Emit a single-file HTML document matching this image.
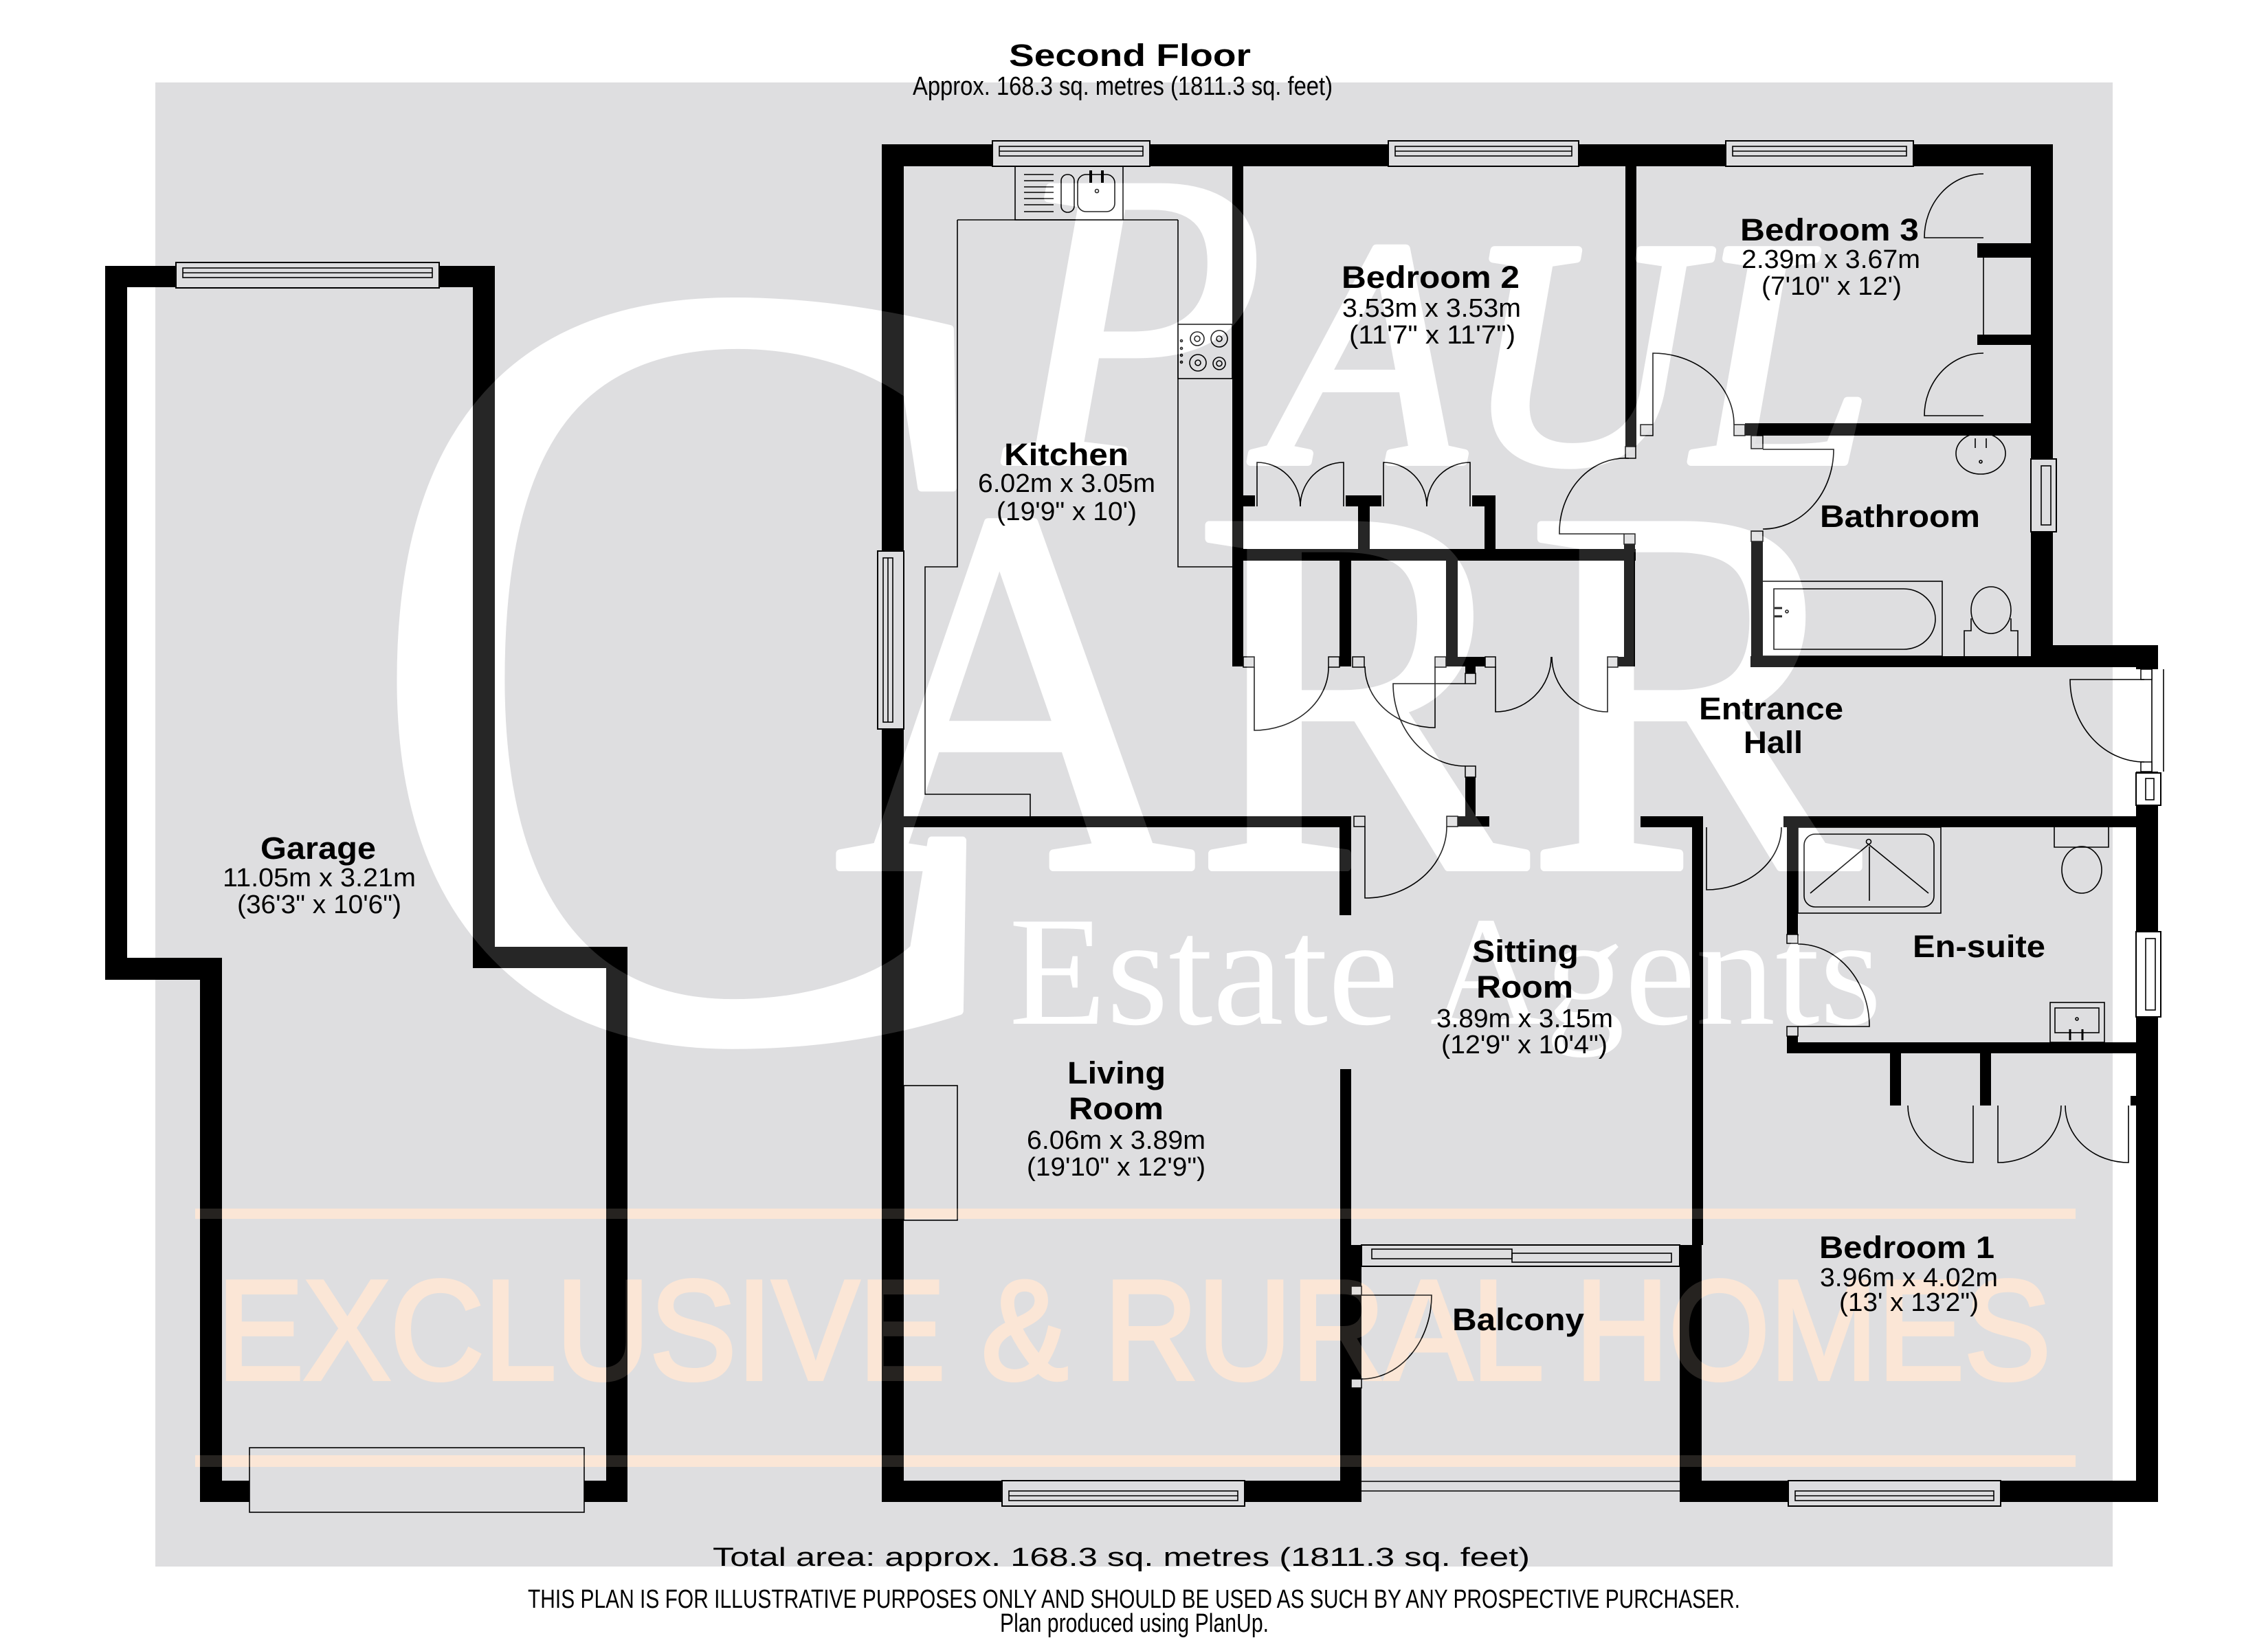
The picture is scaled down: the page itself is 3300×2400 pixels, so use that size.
<!DOCTYPE html>
<html>
<head>
<meta charset="utf-8">
<style>
html,body{margin:0;padding:0;background:#fff;}
svg{display:block;}
.wm{font-family:"Liberation Serif",serif;fill:#fff;stroke:#fff;stroke-width:12;stroke-linejoin:round;}
.or{font-family:"Liberation Sans",sans-serif;fill:#fbe6d6;stroke:#fbe6d6;stroke-width:6;}
.lb{font-family:"Liberation Sans",Arial,sans-serif;font-weight:bold;font-size:45px;fill:#000;}
.dm{font-family:"Liberation Sans",Arial,sans-serif;font-size:38px;fill:#000;}
.ln{fill:none;stroke:#000;stroke-width:1.6;}
.jb{fill:#dedee0;stroke:#000;stroke-width:1.5;}
.win{fill:#dedee0;stroke:#000;stroke-width:2;}
</style>
</head>
<body>
<svg width="3300" height="2400" viewBox="0 0 3300 2400" xmlns="http://www.w3.org/2000/svg">
<rect x="0" y="0" width="3300" height="2400" fill="#fff"/>
<rect x="226" y="120" width="2848" height="2160" fill="#dedee0"/>

<!-- white watermark -->
<g class="wm">
  <text x="1465" y="672" font-size="610" font-style="italic">P</text>
  <text x="1845" y="672" font-size="470" font-style="italic" textLength="880" lengthAdjust="spacingAndGlyphs">AUL</text>
  <text x="520" y="1505" font-size="1610" transform="translate(557 0) scale(0.89 1) translate(-557 0)">C</text>
  <text x="1215" y="1262" font-size="760" textLength="1490" lengthAdjust="spacingAndGlyphs">ARR</text>
  <text x="1468" y="1490" font-size="227" textLength="1270" lengthAdjust="spacingAndGlyphs" stroke-width="0">Estate Agents</text>
</g>
<!-- orange watermark -->
<rect x="284" y="1759" width="2736" height="15" fill="#fbe6d6"/>
<rect x="284" y="2118" width="2736" height="17" fill="#fbe6d6"/>
<text class="or" x="316" y="2007" font-size="206" textLength="2668" lengthAdjust="spacingAndGlyphs">EXCLUSIVE &amp; RURAL HOMES</text>

<!-- WALLS -->
<g fill="#000">
  <!-- garage -->
  <rect x="153" y="387" width="32" height="1039"/>
  <rect x="153" y="387" width="567" height="31"/>
  <rect x="688" y="387" width="32" height="1022"/>
  <rect x="688" y="1378" width="225" height="31"/>
  <rect x="882" y="1378" width="31" height="808"/>
  <rect x="153" y="1394" width="170" height="32"/>
  <rect x="291" y="1394" width="32" height="792"/>
  <rect x="291" y="2155" width="72" height="31"/>
  <rect x="850" y="2155" width="63" height="31"/>
  <!-- main outer -->
  <rect x="1283" y="210" width="1704" height="32"/>
  <rect x="1283" y="210" width="32" height="1976"/>
  <rect x="1283" y="2155" width="698" height="31"/>
  <rect x="2444" y="2155" width="695" height="31"/>
  <rect x="2955" y="210" width="32" height="761"/>
  <rect x="2955" y="939" width="185" height="32"/>
  <rect x="3108" y="939" width="32" height="1247"/>
  <!-- interior -->
  <rect x="1793" y="242" width="16" height="728"/>
  <rect x="1809" y="721" width="17" height="16"/>
  <rect x="1958" y="721" width="52" height="16"/>
  <rect x="1976" y="737" width="17" height="62"/>
  <rect x="2142" y="721" width="34" height="16"/>
  <rect x="2160" y="721" width="16" height="78"/>
  <rect x="1793" y="799" width="587" height="17"/>
  <rect x="1949" y="816" width="17" height="154"/>
  <rect x="2104" y="816" width="17" height="154"/>
  <rect x="2121" y="956" width="40" height="14"/>
  <rect x="2132" y="970" width="15" height="10"/>
  <rect x="2363" y="792" width="16" height="178"/>
  <rect x="2354" y="956" width="25" height="14"/>
  <rect x="2365" y="242" width="16" height="408"/>
  <rect x="2539" y="616" width="416" height="18"/>
  <rect x="2548" y="788" width="17" height="183"/>
  <rect x="2547" y="955" width="439" height="16"/>
  <rect x="2877" y="354" width="78" height="21"/>
  <rect x="2877" y="487" width="78" height="15"/>
  <rect x="1315" y="1188" width="651" height="16"/>
  <rect x="1949" y="1188" width="17" height="144"/>
  <rect x="2121" y="1188" width="46" height="15"/>
  <rect x="2132" y="1131" width="15" height="57"/>
  <rect x="2387" y="1188" width="91" height="16"/>
  <rect x="2462" y="1188" width="16" height="624"/>
  <rect x="2444" y="1812" width="32" height="374"/>
  <rect x="1950" y="1556" width="16" height="256"/>
  <rect x="1950" y="1812" width="31" height="374"/>
  <rect x="2595" y="1188" width="513" height="16"/>
  <rect x="2600" y="1204" width="16" height="156"/>
  <rect x="2600" y="1508" width="16" height="25"/>
  <rect x="2600" y="1517" width="508" height="16"/>
  <rect x="2750" y="1533" width="16" height="76"/>
  <rect x="2881" y="1533" width="16" height="76"/>
  <rect x="3100" y="1595" width="8" height="14"/>
</g>

<!-- WINDOWS -->
<g>
  <rect class="win" x="1444" y="205" width="229" height="37"/><rect class="ln" x="1454" y="213" width="209" height="14"/><line class="ln" x1="1454" y1="220" x2="1663" y2="220"/>
  <rect class="win" x="2020" y="205" width="277" height="37"/><rect class="ln" x="2030" y="213" width="257" height="14"/><line class="ln" x1="2030" y1="220" x2="2287" y2="220"/>
  <rect class="win" x="2511" y="205" width="273" height="37"/><rect class="ln" x="2521" y="213" width="253" height="14"/><line class="ln" x1="2521" y1="220" x2="2774" y2="220"/>
  <rect class="win" x="256" y="382" width="383" height="37"/><rect class="ln" x="266" y="390" width="363" height="14"/><line class="ln" x1="266" y1="397" x2="629" y2="397"/>
  <rect class="win" x="1458" y="2155" width="353" height="37"/><rect class="ln" x="1468" y="2170" width="333" height="14"/><line class="ln" x1="1468" y1="2177" x2="1801" y2="2177"/>
  <rect class="win" x="2602" y="2155" width="309" height="37"/><rect class="ln" x="2612" y="2170" width="289" height="14"/><line class="ln" x1="2612" y1="2177" x2="2901" y2="2177"/>
  <rect class="win" x="1277" y="802" width="38" height="259"/><rect class="ln" x="1285" y="812" width="14" height="239"/><line class="ln" x1="1292" y1="812" x2="1292" y2="1051"/>
  <rect class="win" x="2955" y="668" width="37" height="106"/><rect class="ln" x="2970" y="678" width="14" height="86"/>
  <rect x="3108" y="1356" width="36" height="124" fill="#fff" stroke="#000" stroke-width="2"/><rect class="ln" x="3122" y="1366" width="14" height="104"/>
  <rect x="3108" y="1125" width="36" height="47" fill="#fff" stroke="#000" stroke-width="2"/><rect class="ln" x="3122" y="1133" width="12" height="31"/>
  <rect x="3108" y="974" width="32" height="149" fill="#fff"/>
  <line class="ln" x1="3131" y1="974" x2="3131" y2="1123"/><line class="ln" x1="3148" y1="974" x2="3148" y2="1123"/>
  <rect class="win" x="1981" y="1812" width="463" height="31"/><rect class="ln" x="1996" y="1818" width="204" height="14"/><rect class="ln" x="2200" y="1824" width="232" height="13"/>
  <!-- balcony bottom -->
  <line class="ln" x1="1981" y1="2156" x2="2444" y2="2156"/><line class="ln" x1="1981" y1="2170" x2="2444" y2="2170"/>
  <!-- garage door -->
  <rect class="ln" x="363" y="2107" width="487" height="94"/>
</g>

<!-- JAMBS -->
<g>
  <rect class="jb" x="1809" y="956" width="16" height="15"/><rect class="jb" x="1933" y="956" width="16" height="15"/>
  <rect class="jb" x="1968" y="956" width="17" height="15"/><rect class="jb" x="2088" y="956" width="16" height="15"/>
  <rect class="jb" x="2161" y="956" width="15" height="15"/><rect class="jb" x="2339" y="956" width="15" height="15"/>
  <rect class="jb" x="2132" y="980" width="15" height="15"/><rect class="jb" x="2132" y="1115" width="15" height="16"/>
  <rect class="jb" x="2365" y="650" width="15" height="17"/><rect class="jb" x="2363" y="777" width="16" height="15"/>
  <rect class="jb" x="2387" y="618" width="18" height="16"/><rect class="jb" x="2523" y="618" width="16" height="16"/>
  <rect class="jb" x="2548" y="634" width="17" height="19"/><rect class="jb" x="2548" y="773" width="17" height="15"/>
  <rect class="jb" x="1970" y="1188" width="16" height="15"/><rect class="jb" x="2105" y="1188" width="16" height="15"/>
  <rect class="jb" x="2600" y="1360" width="16" height="13"/><rect class="jb" x="2600" y="1494" width="16" height="14"/>
  <rect class="jb" x="1966" y="1872" width="15" height="13"/><rect class="jb" x="1966" y="2007" width="15" height="13"/>
  <rect x="3115" y="974" width="16" height="15" fill="#fff" stroke="#000" stroke-width="1.5"/><rect x="3115" y="1109" width="16" height="14" fill="#fff" stroke="#000" stroke-width="1.5"/>
</g>

<!-- DOORS -->
<g class="ln">
  <path d="M1825 971 V1063 A108 92 0 0 0 1933 971"/>
  <path d="M2088 970 V1059 A102 89 0 0 1 1986 970"/>
  <path d="M2176 970 V1036 A81 80 0 0 0 2257 956"/>
  <path d="M2339 970 V1036 A81 80 0 0 1 2258 956"/>
  <path d="M2132 995 H2027 A105 120 0 0 0 2132 1115"/>
  <path d="M1829 737 V673 A63 64 0 0 1 1892 737"/>
  <path d="M1955 737 V673 A63 64 0 0 0 1892 737"/>
  <path d="M2013 737 V673 A63 64 0 0 1 2076 737"/>
  <path d="M2139 737 V673 A63 64 0 0 0 2076 737"/>
  <path d="M2363 777 H2269 A96 108 0 0 1 2370 667"/>
  <path d="M2405 618 V514 A118 104 0 0 1 2523 618"/>
  <path d="M2565 654 H2668 A103 116 0 0 1 2565 770"/>
  <path d="M2886 346 H2800 A86 93 0 0 1 2886 253"/>
  <path d="M2886 605 H2800 A86 91 0 0 1 2886 514"/>
  <path d="M3120 989 H3012 A108 120 0 0 0 3120 1109"/>
  <path d="M1986 1203 V1307 A119 104 0 0 0 2105 1203"/>
  <path d="M2483 1204 V1295 A109 91 0 0 0 2592 1204"/>
  <path d="M2616 1494 H2720 A104 120 0 0 0 2616 1374"/>
  <path d="M1981 1885 H2083 A102 122 0 0 1 1981 2007"/>
  <path d="M2871 1609 V1692 A95 83 0 0 1 2776 1609"/>
  <path d="M2907 1609 V1692 A92 83 0 0 0 2999 1609"/>
  <path d="M3097 1609 V1692 A92 83 0 0 1 3005 1609"/>
</g>

<!-- FITTINGS -->
<g class="ln">
  <!-- kitchen -->
  <rect x="1477" y="242" width="157" height="78"/>
  <path d="M1490 254 H1533 M1490 263 H1533 M1490 272 H1533 M1490 280 H1533 M1490 289 H1533 M1490 298 H1533 M1490 308 H1533"/>
  <rect x="1544" y="254" width="19" height="55" rx="9"/>
  <rect x="1568" y="254" width="54" height="54" rx="12"/>
  <circle cx="1596" cy="278" r="2.5"/>
  <path d="M1587 248 V266 M1604 248 V266" stroke-width="4"/>
  <path d="M1393 320 H1714 M1393 320 V825 H1346 V1156 H1499 V1188 M1714 320 V825 H1793"/>
  <rect x="1714" y="472" width="79" height="79"/>
  <circle cx="1742" cy="493" r="10"/><circle cx="1742" cy="493" r="4"/>
  <circle cx="1774" cy="493" r="12"/><circle cx="1774" cy="493" r="4"/>
  <circle cx="1743" cy="528" r="12"/><circle cx="1743" cy="528" r="4"/>
  <circle cx="1774" cy="529" r="9"/><circle cx="1774" cy="529" r="4"/>
  <circle cx="1719" cy="496" r="1.5"/><circle cx="1719" cy="507" r="1.5"/><circle cx="1719" cy="517" r="1.5"/><circle cx="1719" cy="527" r="1.5"/>
  <!-- fireplace -->
  <rect x="1315" y="1580" width="78" height="196"/>
  <!-- bedroom3 wardrobe front -->
  <line x1="2886" y1="375" x2="2886" y2="487"/>
  <!-- bathroom -->
  <rect x="2563" y="846" width="263" height="109"/>
  <path d="M2581 857 H2770 A46 44 0 0 1 2770 945 H2581 Z"/>
  <circle cx="2600" cy="890" r="2"/>
  <path d="M2582 885 H2593 M2582 897 H2593" stroke-width="3"/>
  <ellipse cx="2897" cy="888" rx="29" ry="34"/>
  <path d="M2868 900 V918 H2858 V955 M2926 900 V918 H2936 V955"/>
  <ellipse cx="2882" cy="660" rx="36" ry="30"/>
  <circle cx="2882" cy="672" r="2"/>
  <path d="M2874 638 V652 M2890 638 V652"/>
  <!-- en-suite -->
  <rect x="2616" y="1204" width="208" height="125"/>
  <rect x="2625" y="1214" width="189" height="106" rx="16"/>
  <circle cx="2719" cy="1225" r="3.5"/>
  <path d="M2719 1229 L2634 1300 M2719 1229 L2806 1300 M2720 1232 V1311"/>
  <path d="M2989 1204 V1233 H3068 V1204"/>
  <ellipse cx="3029" cy="1266" rx="29" ry="34"/>
  <rect x="2983" y="1459" width="79" height="58"/>
  <rect x="2990" y="1467" width="64" height="36"/>
  <circle cx="3022" cy="1483" r="2"/>
  <path d="M3012 1498 V1514 M3030 1498 V1514" stroke-width="3"/>
</g>

<!-- watermark overlay (faint over walls) -->
<g opacity="0.15">
  <g class="wm">
    <text x="1465" y="672" font-size="610" font-style="italic">P</text>
    <text x="1845" y="672" font-size="470" font-style="italic" textLength="880" lengthAdjust="spacingAndGlyphs">AUL</text>
    <text x="520" y="1505" font-size="1610" transform="translate(557 0) scale(0.89 1) translate(-557 0)">C</text>
    <text x="1215" y="1262" font-size="760" textLength="1490" lengthAdjust="spacingAndGlyphs">ARR</text>
    <text x="1468" y="1490" font-size="227" textLength="1270" lengthAdjust="spacingAndGlyphs" stroke-width="0">Estate Agents</text>
  </g>
  <rect x="284" y="1759" width="2736" height="15" fill="#fbe6d6"/>
  <rect x="284" y="2118" width="2736" height="17" fill="#fbe6d6"/>
  <text class="or" x="316" y="2007" font-size="206" textLength="2668" lengthAdjust="spacingAndGlyphs">EXCLUSIVE &amp; RURAL HOMES</text>
</g>

<!-- LABELS -->
<g>
  <text class="lb" x="1468" y="96" font-size="56" textLength="352" lengthAdjust="spacingAndGlyphs">Second Floor</text>
  <text class="dm" x="1328" y="138" font-size="31" textLength="611" lengthAdjust="spacingAndGlyphs">Approx. 168.3 sq. metres (1811.3 sq. feet)</text>

  <text class="lb" x="379" y="1250" textLength="168" lengthAdjust="spacingAndGlyphs">Garage</text>
  <text class="dm" x="324" y="1290" textLength="281" lengthAdjust="spacingAndGlyphs">11.05m x 3.21m</text>
  <text class="dm" x="345" y="1329" textLength="239" lengthAdjust="spacingAndGlyphs">(36'3" x 10'6")</text>

  <text class="lb" x="1461" y="677" textLength="181" lengthAdjust="spacingAndGlyphs">Kitchen</text>
  <text class="dm" x="1423" y="716" textLength="258" lengthAdjust="spacingAndGlyphs">6.02m x 3.05m</text>
  <text class="dm" x="1450" y="757" textLength="204" lengthAdjust="spacingAndGlyphs">(19'9" x 10')</text>

  <text class="lb" x="1952" y="419" textLength="259" lengthAdjust="spacingAndGlyphs">Bedroom 2</text>
  <text class="dm" x="1953" y="461" textLength="260" lengthAdjust="spacingAndGlyphs">3.53m x 3.53m</text>
  <text class="dm" x="1963" y="500" textLength="242" lengthAdjust="spacingAndGlyphs">(11'7" x 11'7")</text>

  <text class="lb" x="2532" y="350" textLength="260" lengthAdjust="spacingAndGlyphs">Bedroom 3</text>
  <text class="dm" x="2534" y="390" textLength="260" lengthAdjust="spacingAndGlyphs">2.39m x 3.67m</text>
  <text class="dm" x="2563" y="429" textLength="204" lengthAdjust="spacingAndGlyphs">(7'10" x 12')</text>

  <text class="lb" x="2648" y="767" textLength="233" lengthAdjust="spacingAndGlyphs">Bathroom</text>

  <text class="lb" x="2472" y="1047" textLength="210" lengthAdjust="spacingAndGlyphs">Entrance</text>
  <text class="lb" x="2537" y="1096" textLength="86" lengthAdjust="spacingAndGlyphs">Hall</text>

  <text class="lb" x="2142" y="1400" textLength="155" lengthAdjust="spacingAndGlyphs">Sitting</text>
  <text class="lb" x="2148" y="1452" textLength="141" lengthAdjust="spacingAndGlyphs">Room</text>
  <text class="dm" x="2090" y="1495" textLength="257" lengthAdjust="spacingAndGlyphs">3.89m x 3.15m</text>
  <text class="dm" x="2097" y="1533" textLength="242" lengthAdjust="spacingAndGlyphs">(12'9" x 10'4")</text>

  <text class="lb" x="1553" y="1577" textLength="143" lengthAdjust="spacingAndGlyphs">Living</text>
  <text class="lb" x="1555" y="1629" textLength="138" lengthAdjust="spacingAndGlyphs">Room</text>
  <text class="dm" x="1494" y="1672" textLength="260" lengthAdjust="spacingAndGlyphs">6.06m x 3.89m</text>
  <text class="dm" x="1494" y="1711" textLength="260" lengthAdjust="spacingAndGlyphs">(19'10" x 12'9")</text>

  <text class="lb" x="2113" y="1936" textLength="192" lengthAdjust="spacingAndGlyphs">Balcony</text>

  <text class="lb" x="2783" y="1393" textLength="193" lengthAdjust="spacingAndGlyphs">En-suite</text>

  <text class="lb" x="2647" y="1831" textLength="255" lengthAdjust="spacingAndGlyphs">Bedroom 1</text>
  <text class="dm" x="2648" y="1872" textLength="259" lengthAdjust="spacingAndGlyphs">3.96m x 4.02m</text>
  <text class="dm" x="2676" y="1908" textLength="203" lengthAdjust="spacingAndGlyphs">(13' x 13'2")</text>

  <text class="dm" x="1037" y="2279" font-size="45" textLength="1189" lengthAdjust="spacingAndGlyphs">Total area: approx. 168.3 sq. metres (1811.3 sq. feet)</text>
  <text class="dm" x="768" y="2340" font-size="29" textLength="1764" lengthAdjust="spacingAndGlyphs">THIS PLAN IS FOR ILLUSTRATIVE PURPOSES ONLY AND SHOULD BE USED AS SUCH BY ANY PROSPECTIVE PURCHASER.</text>
  <text class="dm" x="1455" y="2375" font-size="29" textLength="391" lengthAdjust="spacingAndGlyphs">Plan produced using PlanUp.</text>
</g>
</svg>
</body>
</html>
